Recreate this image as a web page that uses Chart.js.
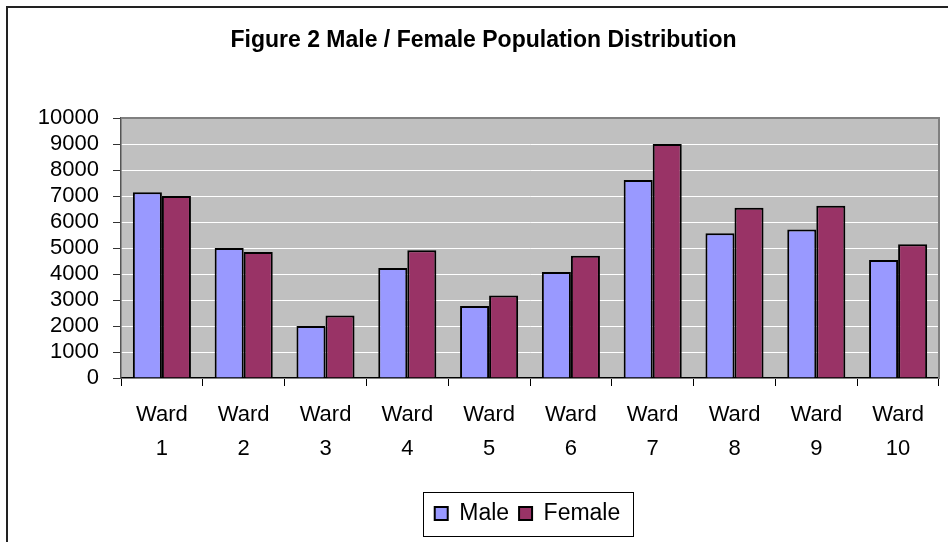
<!DOCTYPE html>
<html lang="en">
<head>
    <meta charset="UTF-8">
    <title>Figure 2 Male / Female Population Distribution</title>
    <script src="https://cdn.jsdelivr.net/npm/chart.js"></script>
    <style>
        html, body { margin: 0; padding: 0; background: #fff; }
        #wrap { width: 948px; height: 542px; }
    </style>
</head>
<body>
    <div id="wrap"><canvas id="popChart" width="948" height="542"></canvas></div>

    <script>
        // Data
        const wards = [['Ward', '1'], ['Ward', '2'], ['Ward', '3'], ['Ward', '4'], ['Ward', '5'],
                       ['Ward', '6'], ['Ward', '7'], ['Ward', '8'], ['Ward', '9'], ['Ward', '10']];
        const male   = [7150, 5000, 2000, 4230, 2770, 4080, 7620, 5570, 5710, 4540];
        const female = [7000, 4850, 2400, 4920, 3170, 4700, 9000, 6550, 6630, 5150];
        const yTicks = [0, 1000, 2000, 3000, 4000, 5000, 6000, 7000, 8000, 9000, 10000];

        const FONT = "'Liberation Sans', Arial, sans-serif";

        // grey plot area, outer frame and the box round the legend
        const decor = {
            id: 'decor',
            afterLayout(chart) {
                // the original has title and legend a little right of centre
                chart.titleBlock.left += 10;
                chart.titleBlock.right += 10;
                chart.legend.left += 54;
                chart.legend.right += 54;
            },
            beforeDraw(chart) {
                const {ctx, chartArea: a} = chart;
                ctx.save();
                ctx.fillStyle = '#C0C0C0';
                ctx.fillRect(a.left, a.top, a.right - a.left, a.bottom - a.top);
                // outer frame (left + top, the rest is cut off)
                ctx.strokeStyle = '#222';
                ctx.lineWidth = 2;
                ctx.beginPath();
                ctx.moveTo(7, 542);
                ctx.lineTo(7, 7);
                ctx.lineTo(948, 7);
                ctx.stroke();
                ctx.restore();
            },
            afterDatasetsDraw(chart) {
                const {ctx, chartArea: a} = chart;
                ctx.save();
                ctx.strokeStyle = '#808080';
                ctx.lineWidth = 2;
                ctx.beginPath();
                ctx.moveTo(a.left, a.top);
                ctx.lineTo(a.right, a.top);
                ctx.lineTo(a.right, a.bottom);
                ctx.stroke();
                ctx.restore();
            },
            afterDraw(chart) {
                const boxes = chart.legend.legendHitBoxes;
                if (!boxes || !boxes.length) return;
                const l = Math.min(...boxes.map(b => b.left));
                const r = Math.max(...boxes.map(b => b.left + b.width));
                const cy = boxes[0].top + boxes[0].height / 2;
                const ctx = chart.ctx;
                ctx.save();
                ctx.strokeStyle = '#000';
                ctx.lineWidth = 1;
                ctx.strokeRect(Math.round(l - 12) + 0.5, Math.round(cy - 22) + 0.5, Math.round(r - l + 24), 44);
                ctx.restore();
            }
        };

        const ctx = document.getElementById('popChart').getContext('2d');
        const popChart = new Chart(ctx, {
            type: 'bar',
            data: {
                labels: wards,
                datasets: [{
                    label: 'Male',
                    data: male,
                    backgroundColor: '#9999FF',
                    borderColor: '#000',
                    borderWidth: 2,
                    categoryPercentage: 0.71,
                    barPercentage: 1.0
                }, {
                    label: 'Female',
                    data: female,
                    backgroundColor: '#993366',
                    borderColor: '#000',
                    borderWidth: 2,
                    categoryPercentage: 0.71,
                    barPercentage: 1.0
                }]
            },
            options: {
                responsive: false,
                animation: false,
                layout: { padding: { left: 8, right: 9, top: 7, bottom: 7 } },
                plugins: {
                    title: {
                        display: true,
                        text: 'Figure 2 Male / Female Population Distribution',
                        color: '#000',
                        font: { family: FONT, size: 23, weight: 'bold', lineHeight: 1.2 },
                        padding: { top: 19.5, bottom: 64 }
                    },
                    legend: {
                        position: 'bottom',
                        labels: {
                            color: '#000',
                            font: { family: FONT, size: 23, lineHeight: 1.2 },
                            boxWidth: 13,
                            boxHeight: 13,
                            padding: 10
                        }
                    },
                    tooltip: { enabled: false }
                },
                scales: {
                    x: {
                        afterFit(scale) { scale.height += 14; },
                        grid: { drawOnChartArea: false, tickLength: 8, tickColor: '#000', offset: true },
                        border: { color: '#000', width: 1.5 },
                        ticks: {
                            color: '#000',
                            padding: 12,
                            maxRotation: 0,
                            autoSkip: false,
                            font: { family: FONT, size: 22, lineHeight: 34 / 22 }
                        }
                    },
                    y: {
                        min: 0,
                        max: 10000,
                        afterFit(scale) { scale.width = 113; },
                        afterBuildTicks(scale) { scale.ticks = yTicks.map(v => ({ value: v })); },
                        grid: { color: '#fff', lineWidth: 1, tickLength: 8, tickColor: '#333' },
                        border: { color: '#555', width: 1.5 },
                        ticks: {
                            color: '#000',
                            padding: 14,
                            autoSkip: false,
                            callback: v => String(v),
                            font: { family: FONT, size: 22, lineHeight: 1 }
                        }
                    }
                }
            },
            plugins: [decor]
        });
    </script>
</body>
</html>
